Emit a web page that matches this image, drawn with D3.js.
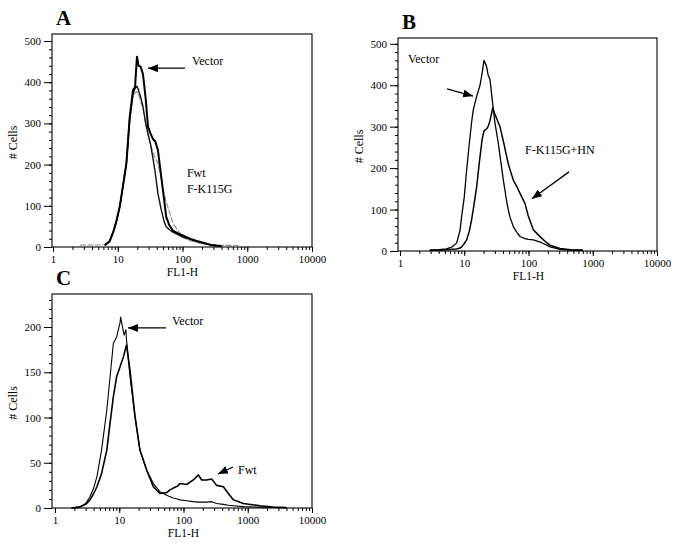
<!DOCTYPE html>
<html><head><meta charset="utf-8">
<script src="https://cdn.jsdelivr.net/npm/d3@7/dist/d3.min.js"></script>
<style>
html,body{margin:0;padding:0;background:#fff;}
svg{display:block;}
text{font-family:"Liberation Serif","Times New Roman",serif;fill:#000;}
</style></head>
<body>
<svg id="chart" width="677" height="543"></svg>
<script>
// ---------- DATA ----------
const xTickValues = [1, 10, 100, 1000, 10000];
const yTicksAB = [0, 100, 200, 300, 400, 500];
const yTicksC = [0, 50, 100, 150, 200];

// Panel A
const xA = [2.6, 4, 5.5, 6.3, 7.5, 8.5, 9.5, 10.7, 12.1, 13.6, 15.3, 17.2, 18.5, 19.8, 21, 22.5, 24.5, 27, 29.3, 32, 35, 38, 41.7, 47, 52, 56, 63, 71, 85, 101, 130, 162, 220, 276, 400, 550, 753];
const vectorA = [null, null, null, 4, 14, 36, 62, 97, 150, 203, 316, 381, 388, 462, 440, 438, 420, 360, 292, 276, 262, 256, 235, 170, 115, 73, 52, 40, 33, 28, 20, 15, 9, 5, 2, null, null];
const fwtA = [null, null, null, 4, 14, 36, 62, 97, 150, 203, 310, 372, 385, 390, 380, 365, 341, 300, 275, 250, 215, 179, 130, 90, 62, 49, 42, 36, 30, 24, 19, 14, 9, 5, 2, null, null];
const fk115gA = [5, 5, 5, 6, 14, 34, 60, 95, 148, 200, 305, 365, 375, 377, 370, 355, 336, 300, 270, 250, 230, 215, 203, 165, 130, 110, 85, 58, 40, 24, 15, 11, 7, 6, 4, 4, 3];

// Panel B
const xB = [2.9, 4, 5.3, 6.5, 7.6, 8.6, 9.1, 10, 10.9, 12, 13, 13.8, 15.6, 17.6, 19, 20.3, 22.3, 23.5, 25.2, 27.7, 30, 33.9, 36, 40.6, 45.7, 48.5, 52, 58, 66, 73.8, 88, 99, 119, 160, 192, 216, 310, 450, 700];
const vectorB = [2, 3, 5, 10, 19, 50, 83, 130, 196, 260, 310, 340, 373, 400, 430, 460, 445, 425, 413, 355, 310, 260, 230, 171, 120, 99, 80, 59, 45, 35, 30, 28, 27, 20, 14, 10, 4, 2, 2];
const fk115ghnB = [2, 2, 3, 4, 5, 7, 10, 18, 27, 48, 75, 100, 155, 228, 270, 290, 295, 300, 315, 345, 330, 310, 300, 265, 228, 210, 195, 171, 155, 139, 115, 85, 51, 31, 20, 14, 6, 3, 2];

// Panel C
const xC = [1.8, 2.0, 2.45, 3.0, 3.5, 4.0, 4.5, 5.3, 6.4, 7.2, 8.1, 9.1, 10.3, 10.5, 11.6, 11.9, 12.7, 13, 14.7, 17.6, 21, 26.7, 33.9, 43, 54.7, 61.6, 69.5, 80, 88, 112, 142, 170, 192, 230, 274, 328, 417, 499, 596, 852, 1550, 2500, 4000];
const vectorC = [0, 0.5, 1.5, 5, 12.5, 22, 35, 64, 108, 145, 182, 189, 205, 211, 195, 191, 197, 185, 145, 101, 64, 42, 27, 18, 14, 12.5, 11, 10, 9, 8, 7, 6.5, 6.5, 6.5, 7, 5, 4, 3, 2.5, 1.5, 1, 0.5, 0.3];
const fwtC = [0, 0.3, 1, 4, 9, 16, 23.5, 38, 64, 94, 123, 145, 156, 158, 167, 170, 178, 180, 152, 101, 64, 42, 23.5, 16, 17, 20, 22, 24, 27, 26, 31, 36.5, 31, 31, 32, 25, 23.5, 16, 9, 5, 2.5, 1, 0.5];

// ---------- DRAW ----------
const svg = d3.select("#chart");
const defs = svg.append("defs");
defs.append("marker").attr("id", "arrow")
  .attr("viewBox", "0 0 10 8").attr("refX", 10).attr("refY", 4)
  .attr("markerWidth", 10).attr("markerHeight", 8)
  .attr("markerUnits", "userSpaceOnUse").attr("orient", "auto")
  .append("path").attr("d", "M0,0 L10,4 L0,8 Z").attr("fill", "#000");

function panel(cfg) {
  const g = svg.append("g");
  const x = d3.scaleLog().domain([1, 10000]).range([cfg.x0, cfg.x1]);
  const y = d3.scaleLinear().domain([0, cfg.yMax]).range([cfg.bottom, cfg.top]);

  // box
  g.append("rect").attr("x", cfg.axisX).attr("y", cfg.top)
    .attr("width", cfg.x1 - cfg.axisX).attr("height", cfg.bottom - cfg.top)
    .attr("fill", "none").attr("stroke", "#000").attr("stroke-width", 1.1);

  // x minor ticks
  g.append("g").attr("transform", `translate(0,${cfg.bottom})`)
    .call(d3.axisBottom(x).tickValues(x.ticks()).tickSize(3).tickFormat("").tickSizeOuter(0))
    .call(s => s.select(".domain").remove());
  // x major ticks
  g.append("g").attr("transform", `translate(0,${cfg.bottom})`)
    .call(d3.axisBottom(x).tickValues(xTickValues).tickSize(5).tickPadding(3).tickFormat(d3.format("d")).tickSizeOuter(0))
    .call(s => s.select(".domain").remove())
    .call(s => s.selectAll("text").attr("font-size", 11).attr("font-family", "Liberation Serif, serif"));
  // y minor ticks
  g.append("g").attr("transform", `translate(${cfg.axisX},0)`)
    .call(d3.axisLeft(y).tickValues(d3.range(0, cfg.yMax, cfg.yMinor)).tickSize(3).tickFormat("").tickSizeOuter(0))
    .call(s => s.select(".domain").remove());
  // y major ticks
  g.append("g").attr("transform", `translate(${cfg.axisX},0)`)
    .call(d3.axisLeft(y).tickValues(cfg.yTicks).tickSize(8).tickPadding(3).tickSizeOuter(0))
    .call(s => s.select(".domain").remove())
    .call(s => s.selectAll("text").attr("font-size", 11).attr("font-family", "Liberation Serif, serif"));
  g.selectAll(".tick line").attr("stroke", "#000").attr("stroke-width", 1);

  // axis titles
  g.append("text").attr("x", (cfg.x0 + cfg.x1) / 2).attr("y", cfg.bottom + 29)
    .attr("text-anchor", "middle").attr("font-size", 11.5).text("FL1-H");
  g.append("text").attr("transform", `translate(${cfg.axisX - 35},${(cfg.top + cfg.bottom) / 2 + 2}) rotate(-90)`)
    .attr("text-anchor", "middle").attr("font-size", 12).text("# Cells");
  // panel letter
  g.append("text").attr("x", cfg.axisX + 4).attr("y", cfg.top - 9)
    .attr("font-size", 21).attr("font-weight", "bold").text(cfg.letter);

  // curves
  cfg.series.forEach(s => {
    const pts = cfg.xs.map((v, i) => [v, s.values[i]]);
    const line = d3.line().defined(d => d[1] != null)
      .x(d => x(d[0])).y(d => y(d[1]));
    g.append("path").attr("d", line(pts)).attr("fill", "none")
      .attr("stroke", s.color).attr("stroke-width", s.width)
      .attr("stroke-dasharray", s.dash || null)
      .attr("stroke-linejoin", "round");
  });

  // annotations
  cfg.labels.forEach(l => {
    g.append("text").attr("x", x(l.v)).attr("y", y(l.c)).attr("font-size", 12).text(l.text);
  });
  cfg.arrows.forEach(a => {
    g.append("line").attr("x1", x(a.v1)).attr("y1", y(a.c1))
      .attr("x2", x(a.v2)).attr("y2", y(a.c2))
      .attr("stroke", "#000").attr("stroke-width", 1.3).attr("marker-end", "url(#arrow)");
  });
}

panel({
  letter: "A", axisX: 52, x0: 53, x1: 312, top: 34, bottom: 247, yMax: 517, yMinor: 20, yTicks: yTicksAB,
  xs: xA,
  series: [
    { values: fk115gA, color: "#8c8c8c", width: 1.1, dash: "6,1.5" },
    { values: fwtA, color: "#111", width: 1.4 },
    { values: vectorA, color: "#000", width: 2 }
  ],
  labels: [
    { text: "Vector", v: 140, c: 442 },
    { text: "Fwt", v: 117, c: 170 },
    { text: "F-K115G", v: 117, c: 131 }
  ],
  arrows: [{ v1: 109, c1: 434, v2: 29.3, c2: 434 }]
});

panel({
  letter: "B", axisX: 398, x0: 400, x1: 657, top: 38, bottom: 251, yMax: 514, yMinor: 20, yTicks: yTicksAB,
  xs: xB,
  series: [
    { values: vectorB, color: "#000", width: 1.3 },
    { values: fk115ghnB, color: "#000", width: 1.5 }
  ],
  labels: [
    { text: "Vector", v: 1.33, c: 454 },
    { text: "F-K115G+HN", v: 88.2, c: 234 }
  ],
  arrows: [
    { v1: 5.39, c1: 391, v2: 13.7, c2: 374 },
    { v1: 427, c1: 191, v2: 113, c2: 126 }
  ]
});

panel({
  letter: "C", axisX: 52, x0: 55, x1: 312, top: 294, bottom: 508, yMax: 236.5, yMinor: 10, yTicks: yTicksC,
  xs: xC,
  series: [
    { values: vectorC, color: "#000", width: 1.1 },
    { values: fwtC, color: "#000", width: 1.6 }
  ],
  labels: [
    { text: "Vector", v: 66.2, c: 202 },
    { text: "Fwt", v: 705, c: 37.6 }
  ],
  arrows: [
    { v1: 53.4, c1: 199, v2: 13.7, c2: 199 },
    { v1: 589, c1: 45.3, v2: 344, c2: 37.6 }
  ]
});
</script>
</body></html>
